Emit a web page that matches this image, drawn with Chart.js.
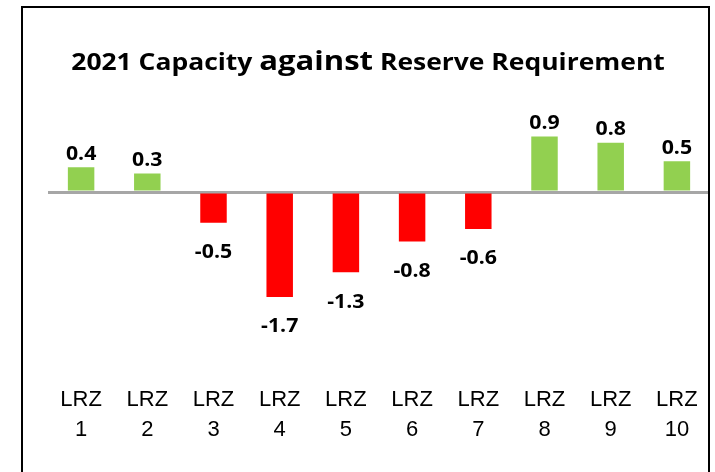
<!DOCTYPE html>
<html>
<head>
<meta charset="utf-8">
<script src="https://cdn.jsdelivr.net/npm/chart.js@4"></script>
<style>
  html, body { margin: 0; padding: 0; background: #fff; }
  #wrap { width: 715px; height: 472px; }
</style>
</head>
<body>
<div id="wrap"><canvas id="grafico" width="715" height="472"></canvas></div>
<script>
const zonas = ['LRZ 1', 'LRZ 2', 'LRZ 3', 'LRZ 4', 'LRZ 5', 'LRZ 6', 'LRZ 7', 'LRZ 8', 'LRZ 9', 'LRZ 10'];
const margens = [0.4, 0.3, -0.5, -1.7, -1.3, -0.8, -0.6, 0.9, 0.8, 0.5];
const tituloPartes = [['2021 Capacity ', 23], ['against', 27], [' Reserve Requirement', 23]];

const verde = '#92D050';
const vermelho = '#FF0000';

// moldura + titulo com tamanhos de fonte misturados (levemente esticado na horizontal)
const molduraTitulo = {
    id: 'molduraTitulo',
    afterDraw(chart) {
        const ctx = chart.ctx;
        ctx.save();
        ctx.strokeStyle = '#000';
        ctx.lineWidth = 2;
        ctx.strokeRect(22, 7, 687, 500);

        ctx.fillStyle = '#000';
        ctx.textBaseline = 'alphabetic';
        const estica = 1.15;
        let total = 0;
        tituloPartes.forEach(([t, s]) => {
            ctx.font = 'bold ' + s + 'px "Open Sans"';
            total += ctx.measureText(t).width;
        });
        ctx.translate(368 - total * estica / 2, 70);
        ctx.scale(estica, 1);
        let x = 0;
        tituloPartes.forEach(([t, s]) => {
            ctx.font = 'bold ' + s + 'px "Open Sans"';
            ctx.fillText(t, x, 0);
            x += ctx.measureText(t).width;
        });
        ctx.restore();
    }
};

// rotulos de valor fora da ponta da barra
const rotulos = {
    id: 'rotulos',
    afterDatasetsDraw(chart) {
        const ctx = chart.ctx;
        const meta = chart.getDatasetMeta(0);
        ctx.save();
        ctx.font = 'bold 19px "Open Sans"';
        ctx.fillStyle = '#000';
        ctx.textAlign = 'center';
        ctx.textBaseline = 'middle';
        meta.data.forEach((bar, i) => {
            const v = margens[i];
            const y = v >= 0 ? bar.y - 13 : bar.y + 30;
            ctx.save();
            ctx.translate(bar.x, y);
            ctx.scale(1.12, 1);
            ctx.fillText(v.toFixed(1), 0, 0);
            ctx.restore();
        });
        ctx.restore();
    }
};

new Chart(document.getElementById('grafico').getContext('2d'), {
    type: 'bar',
    data: {
        labels: zonas.map(z => z.split(' ')),
        datasets: [{
            label: 'Margem',
            data: margens,
            backgroundColor: margens.map(v => v >= 0 ? verde : vermelho),
            borderWidth: 0,
            barPercentage: 0.4,
            categoryPercentage: 1
        }]
    },
    options: {
        responsive: false,
        animation: false,
        layout: { padding: { top: 105, left: 48, right: 5, bottom: 27 } },
        plugins: {
            legend: { display: false },
            title: { display: false },
            tooltip: { enabled: false }
        },
        scales: {
            x: {
                grid: { display: false },
                border: { display: false },
                ticks: {
                    padding: 0,
                    color: '#000',
                    maxRotation: 0,
                    autoSkip: false,
                    font: { family: 'Liberation Sans', size: 22, lineHeight: 1.36 }
                }
            },
            y: {
                min: -3.0,
                max: 1.41,
                ticks: { display: false },
                border: { display: false },
                afterBuildTicks(scale) { scale.ticks = [{ value: 0 }]; },
                grid: { color: '#A6A6A6', lineWidth: 3, drawTicks: false }
            }
        }
    },
    plugins: [molduraTitulo, rotulos]
});
</script>
</body>
</html>
